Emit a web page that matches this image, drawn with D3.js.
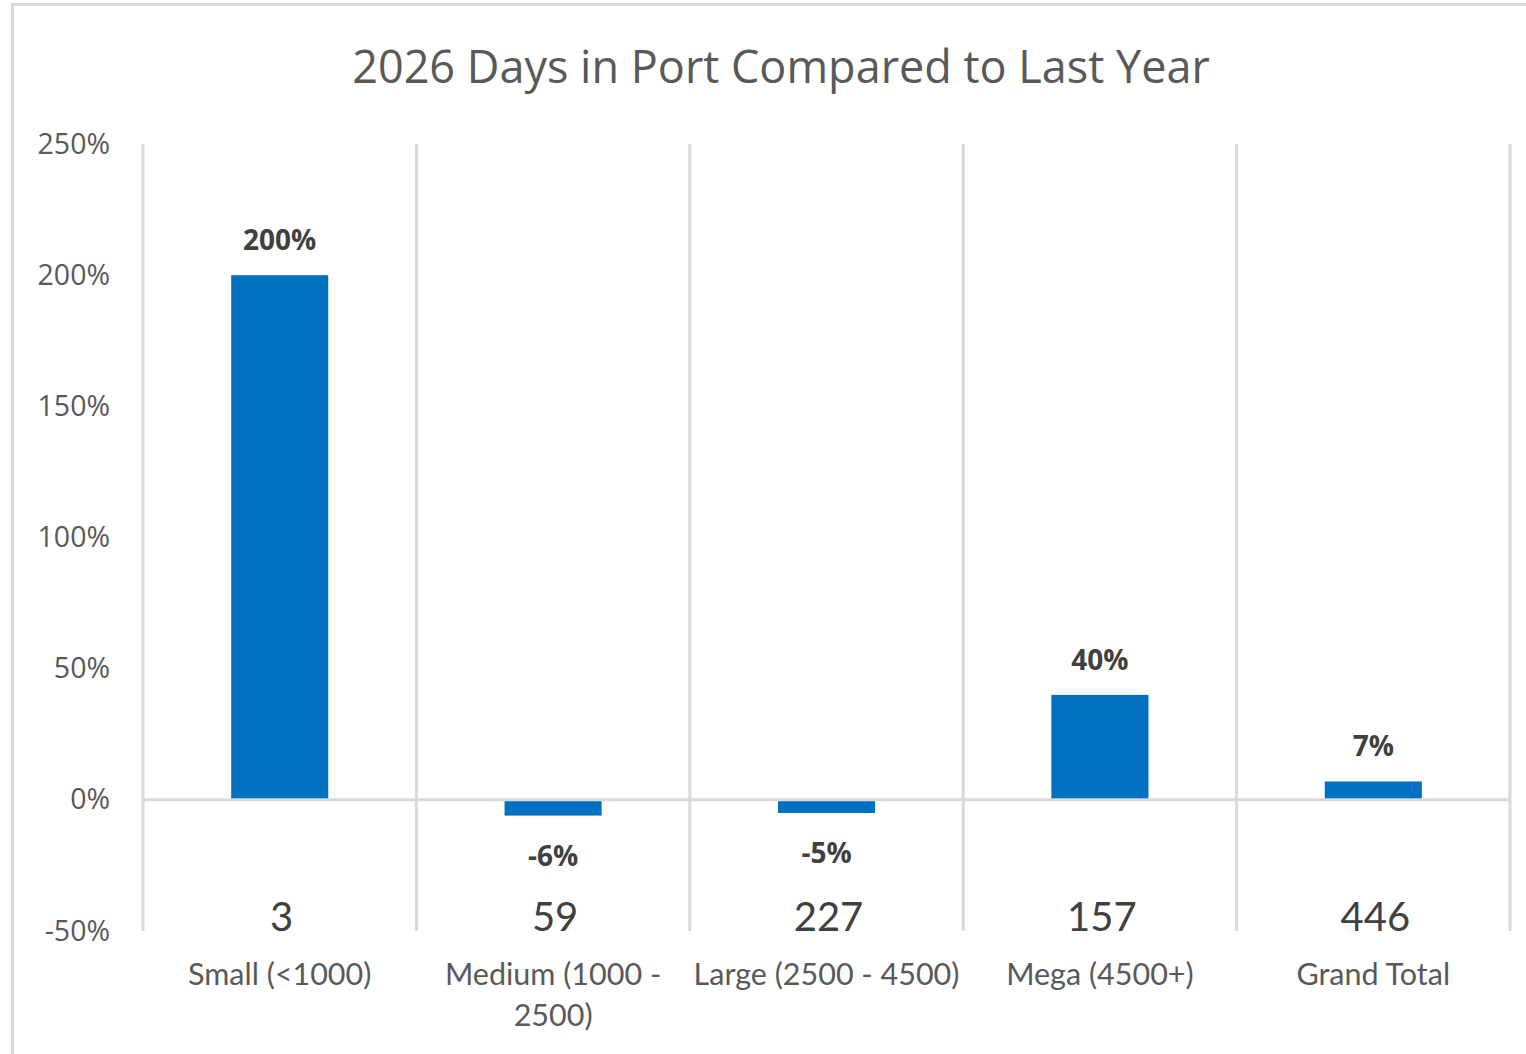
<!DOCTYPE html>
<html>
<head>
<meta charset="utf-8">
<script src="https://cdn.jsdelivr.net/npm/d3@7"></script>
<style>
  html, body { margin: 0; padding: 0; background: #fff; }
  svg { display: block; }
</style>
</head>
<body>
<svg id="chart" width="1526" height="1054"></svg>
<script>
// Chart data
const categories = ["Small (<1000)", "Medium (1000 - 2500)", "Large (2500 - 4500)", "Mega (4500+)", "Grand Total"];
const changePct = [2.00, -0.06, -0.05, 0.40, 0.07];
const portCounts = [3, 59, 227, 157, 446];
const yTicks = [-0.5, 0, 0.5, 1.0, 1.5, 2.0, 2.5];
const title = "2026 Days in Port Compared to Last Year";

const svg = d3.select("#chart");
const W = 1526, H = 1054;
const margin = { left: 143, right: 16, top: 144, bottom: 123 };

const gridColor = "#d9d9d9";
const barColor = "#0070c0";
const axisText = "#595959";
const labelText = "#404040";

// percent format using a plain hyphen for negatives
const pct = d => d3.format(".0%")(d).replace("\u2212", "-");

// chart frame
svg.append("path")
  .attr("d", `M12.5,${H} L12.5,4.5 L${W},4.5`)
  .attr("fill", "none").attr("stroke", gridColor).attr("stroke-width", 3);

const x = d3.scaleBand()
  .domain(categories)
  .range([margin.left, W - margin.right])
  .paddingInner(0).paddingOuter(0);

const y = d3.scaleLinear()
  .domain([-0.5, 2.5])
  .range([H - margin.bottom, margin.top]);

// title
svg.append("text")
  .attr("x", 781).attr("y", 83)
  .attr("text-anchor", "middle")
  .attr("font-family", "Open Sans, sans-serif")
  .attr("font-size", 45)
  .attr("fill", axisText)
  .text(title);

// vertical category separators
const bounds = categories.map(c => x(c)).concat([x.range()[1]]);
svg.append("g").selectAll("line")
  .data(bounds).join("line")
  .attr("x1", d => d).attr("x2", d => d)
  .attr("y1", y(2.5)).attr("y2", y(-0.5))
  .attr("stroke", gridColor).attr("stroke-width", 3);

// y axis tick labels
const yAxis = d3.axisLeft(y)
  .tickValues(yTicks)
  .tickFormat(pct)
  .tickSize(0).tickPadding(0);
const yg = svg.append("g")
  .attr("transform", `translate(110,0)`)
  .call(yAxis);
yg.select(".domain").remove();
yg.selectAll("text")
  .attr("font-family", "Open Sans, sans-serif")
  .attr("font-size", 28.5)
  .attr("fill", axisText);

// bars
const bw = x.bandwidth() * 0.355;
svg.append("g").selectAll("rect")
  .data(categories).join("rect")
  .attr("x", (c) => x(c) + x.bandwidth() / 2 - bw / 2)
  .attr("width", bw)
  .attr("y", (c, i) => y(Math.max(0, changePct[i])))
  .attr("height", (c, i) => Math.abs(y(changePct[i]) - y(0)))
  .attr("fill", barColor);

// zero line
svg.append("line")
  .attr("x1", x.range()[0]).attr("x2", x.range()[1])
  .attr("y1", y(0)).attr("y2", y(0))
  .attr("stroke", gridColor).attr("stroke-width", 3);

// value labels
svg.append("g").selectAll("text")
  .data(categories).join("text")
  .attr("x", c => x(c) + x.bandwidth() / 2)
  .attr("y", (c, i) => changePct[i] >= 0 ? y(changePct[i]) - 25 : y(changePct[i]) + 50)
  .attr("text-anchor", "middle")
  .attr("font-family", "Open Sans, sans-serif")
  .attr("font-weight", "bold")
  .attr("font-size", 28)
  .attr("fill", labelText)
  .text((c, i) => pct(changePct[i]));

// port count labels
svg.append("g").selectAll("text")
  .data(categories).join("text")
  .attr("x", c => x(c) + x.bandwidth() / 2 + 2)
  .attr("y", 931)
  .attr("text-anchor", "middle")
  .attr("font-family", "Lato, sans-serif")
  .attr("font-size", 40)
  .attr("fill", labelText)
  .text((c, i) => portCounts[i]);

// category labels, wrapped to the band width
const catG = svg.append("g");
categories.forEach((c, i) => {
  const t = catG.append("text")
    .attr("x", x(c) + x.bandwidth() / 2)
    .attr("y", 985)
    .attr("text-anchor", "middle")
    .attr("font-family", "Lato, sans-serif")
    .attr("font-size", 30.5)
    .attr("fill", axisText);
  const words = c.split(" ");
  let line = [];
  let tspan = t.append("tspan").attr("x", x(c) + x.bandwidth() / 2).attr("dy", 0);
  words.forEach(w => {
    line.push(w);
    tspan.text(line.join(" "));
    if (tspan.node().getComputedTextLength() > x.bandwidth() - 6 && line.length > 1) {
      line.pop();
      tspan.text(line.join(" "));
      line = [w];
      tspan = t.append("tspan").attr("x", x(c) + x.bandwidth() / 2).attr("dy", 41).text(w);
    }
  });
});
</script>
</body>
</html>
